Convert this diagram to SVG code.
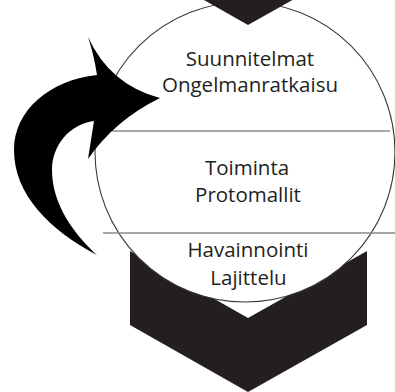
<svg xmlns="http://www.w3.org/2000/svg" width="395" height="392" viewBox="0 0 395 392">
<style>
.chev{fill:#231f20}
.ring{fill:#fff;stroke:#3a3a3a;stroke-width:1.1}
.div{stroke:#8a8a8a;stroke-width:1.6;fill:none}
.lbl{font-family:"Open Sans","Noto Sans",sans-serif;font-size:20.5px;fill:#231f20;text-anchor:middle}
.arrow{fill:#000}
</style>
<g id="chevron-bottom"><path class="chev" d="M130,251 L248,318 L367,251 L367,325 L248,392 L130,325 Z"/></g>
<g id="circle"><circle class="ring" cx="245" cy="152" r="150"/></g>
<g id="top-chevron"><path class="chev" d="M130,-116 L248,-49 L367,-116 L367,-42 L248,25 L130,-42 Z"/></g>
<g id="dividers">
<line class="div" x1="112" y1="131" x2="390" y2="131"/>
<line class="div" x1="103" y1="233" x2="395" y2="233"/>
</g>
<g id="section-plan"><text class="lbl" x="250" y="66">Suunnitelmat</text><text class="lbl" x="250" y="92">Ongelmanratkaisu</text></g>
<g id="section-action"><text class="lbl" x="247" y="175">Toiminta</text><text class="lbl" x="248" y="201.5">Protomallit</text></g>
<g id="section-observe"><text class="lbl" x="248" y="256.5">Havainnointi</text><text class="lbl" x="248.5" y="285">Lajittelu</text></g>
<g id="connectors">
<path class="arrow" d="M97,255 C50,230 14,195 14,150 C14,110 50,80 97,75 Q94,55 88,37 Q110,85 160,98 Q115,120 88,159 L94,121 C70,124 52,145 52,170 C52,205 75,235 97,255 Z"/>
</g>
</svg>
